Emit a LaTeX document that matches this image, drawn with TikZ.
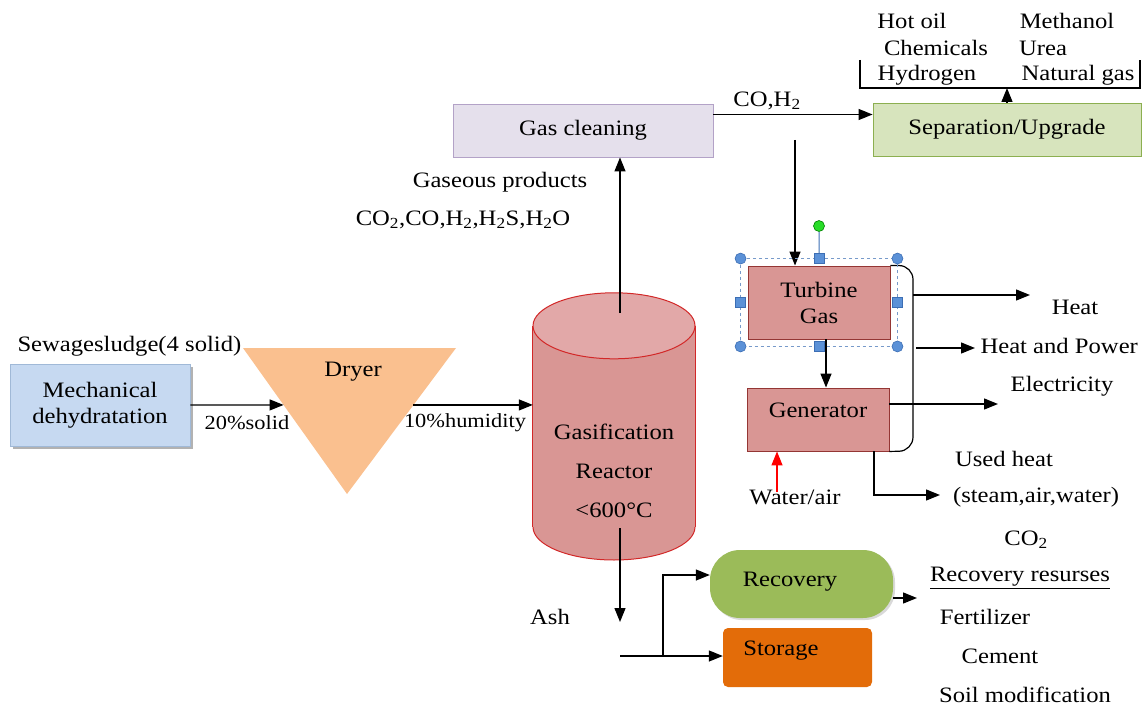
\documentclass[tikz,border=0pt]{standalone}
\usepackage{fontspec}
\setmainfont{Liberation Serif}[FakeStretch=1.12]
\usetikzlibrary{arrows.meta,calc,shadows}
\definecolor{mechblue}{RGB}{198,217,241}
\definecolor{mechedge}{RGB}{160,185,215}
\definecolor{dryorange}{RGB}{250,192,143}
\definecolor{reactfill}{RGB}{217,150,148}
\definecolor{reacttop}{RGB}{226,168,168}
\definecolor{reactred}{RGB}{210,40,40}
\definecolor{cleanfill}{RGB}{229,224,236}
\definecolor{cleanedge}{RGB}{179,162,199}
\definecolor{sepfill}{RGB}{215,228,189}
\definecolor{sepedge}{RGB}{140,175,80}
\definecolor{turbedge}{RGB}{148,54,52}
\definecolor{recovgreen}{RGB}{155,187,89}
\definecolor{storeorange}{RGB}{227,108,9}
\definecolor{handlefill}{RGB}{91,145,215}
\definecolor{handleedge}{RGB}{60,110,180}
\definecolor{rotgreen}{RGB}{40,220,40}
\newcommand{\fs}{\fontsize{22}{26}\selectfont}
\tikzset{
  proc/.style={draw, line width=0.9pt, inner sep=2pt, align=center},
  flow/.style={line width=1.3pt, -{Triangle[length=14pt,width=11pt]}},
  small/.style={font=\fontsize{20}{24}\selectfont},
  handle/.style={circle, fill=handlefill, draw=handleedge, line width=0.6pt, minimum size=11pt, inner sep=0pt},
  handlesq/.style={rectangle, fill=handlefill, draw=handleedge, line width=0.6pt, minimum size=10pt, inner sep=0pt}
}

\begin{document}
\begin{tikzpicture}[x=1pt,y=-1pt,font=\fs]
  \useasboundingbox (0,0) rectangle (1146,706);

  % déshydratation et séchage
  \node[proc, fill=mechblue, draw=mechedge, minimum width=180, minimum height=82,
        drop shadow={shadow xshift=3pt, shadow yshift=-3pt, fill=black!30, opacity=1}]
        (mech) at (100,405) {Mechanical\\dehydratation};
  \node[anchor=west] (sludge) at (14,346) {Sewagesludge(4 solid)};

  \coordinate (dryA) at (243,348);
  \coordinate (dryB) at (456,348);
  \coordinate (dryC) at (347,494);
  \fill[dryorange] (dryA) -- (dryB) -- (dryC) -- cycle;
  \node (dryer) at (353,372) {Dryer};
  \coordinate (dryin) at ($(dryA)!0.39!(dryC)$);
  \coordinate (dryout) at ($(dryB)!0.39!(dryC)$);

  % réacteur
  \filldraw[fill=reactfill, draw=reactred, line width=1pt] (614,527) ellipse [x radius=81, y radius=33];
  \node[fill=reactfill, minimum width=162, minimum height=201, inner sep=0pt] (reactor) at (614,426.5) {};
  \draw[reactred, line width=1pt] (reactor.north west) -- (reactor.south west)
                                  (reactor.north east) -- (reactor.south east);
  \filldraw[fill=reacttop, draw=reactred, line width=1pt] (reactor.north) ellipse [x radius=81, y radius=33];
  \node[align=center, font=\fontsize{22}{39}\selectfont] (reacttext) at (614,471) {Gasification\\Reactor\\<600°C};

  \draw[flow] (mech.east) -- (dryin);
  \node[small] (solid) at (247,423) {20\%solid};
  \draw[flow] (dryout) -- (dryout -| reactor.west);
  \node[small] (humid) at (465,423) {10\%humidity};

  % gaz
  \node[proc, fill=cleanfill, draw=cleanedge, minimum width=260, minimum height=53] (clean) at (583,130.5) {Gas cleaning};
  \coordinate (rtop) at (620,313);
  \draw[flow] (rtop) -- (rtop |- clean.south);
  \node (gasprod) at (500,182) {Gaseous products};
  \node (gaslist) at (463,220) {CO\textsubscript{2},CO,H\textsubscript{2},H\textsubscript{2}S,H\textsubscript{2}O};

  \node[proc, fill=sepfill, draw=sepedge, minimum width=268, minimum height=53] (sep) at (1007,129.5) {Separation/Upgrade};
  \draw[flow] ([yshift=16pt]clean.east) -- ([yshift=16pt]clean.east -| sep.west);
  \node (coh) at (767,101) {CO,H\textsubscript{2}};

  \coordinate (brl) at (860,60);
  \coordinate (brb) at (1140,88);
  \coordinate (brr) at (1140,60);
  \draw[line width=1.2pt] (brl) |- (brb) -- (brr);
  \draw[flow] (sep.north) -- (sep.north |- brb);
  \node (hotoil) at (912,21) {Hot oil};
  \node (methanol) at (1067,21) {Methanol};
  \node (chem) at (936,48) {Chemicals};
  \node (urea) at (1043,48) {Urea};
  \node (hydro) at (927,75) {Hydrogen};
  \node (natgas) at (1078,75) {Natural gas};

  % turbine et générateur
  \node[proc, fill=reactfill, draw=turbedge, minimum width=142, minimum height=73] (turb) at (819,302.5) {Turbine\\Gas};
  \node[proc, fill=reactfill, draw=turbedge, minimum width=142, minimum height=63, text depth=18pt] (gen) at (818,419.5) {Generator};
  \coordinate (tap) at (795,140);
  \draw[flow] (tap) -- (tap |- turb.north);
  \draw[flow] ([xshift=7pt]turb.south) -- ([xshift=7pt]turb.south |- gen.north);

  \coordinate (brk) at (913,451);
  \draw[line width=1.2pt, rounded corners=14pt] (turb.north east) -| (brk) -- (gen.south east);

  \coordinate (heatA) at (913,295);
  \coordinate (heatB) at (1030,295);
  \draw[flow] (heatA) -- (heatB);
  \node (heat) at (1075,307) {Heat};
  \coordinate (hpA) at (916,348);
  \coordinate (hpB) at (975,348);
  \draw[flow] (hpA) -- (hpB);
  \node[anchor=west] (hp) at (977,346) {Heat and Power};
  \coordinate (elecB) at (998,404);
  \draw[flow] ([yshift=15.5pt]gen.east) -- (elecB);
  \node (elec) at (1062,386) {Electricity};

  \coordinate (water) at (777,492);
  \draw[flow, red] (water) -- (water |- gen.south);
  \node (wair) at (795,497) {Water/air};
  \coordinate (usedB) at (940,495);
  \draw[flow] ([xshift=56pt]gen.south) |- (usedB);
  \node (used) at (1004,459) {Used heat};
  \node (steam) at (1036,497) {(steam,air,water)};
  \node (cotwo) at (1026,540) {CO\textsubscript{2}};

  % poignées de sélection
  \coordinate (hNW) at ([shift={(-7pt,7pt)}]turb.north west);
  \coordinate (hSE) at ([shift={(7pt,-7pt)}]turb.south east);
  \coordinate (hNE) at (hSE |- hNW);
  \coordinate (hSW) at (hNW |- hSE);
  \draw[handleedge!70, dashed, line width=0.8pt] (hNW) rectangle (hSE);
  \node[handle, fill=rotgreen, draw=green!50!black] (rot) at (819,226) {};
  \draw[handleedge, line width=1pt] (rot) -- ($(hNW)!0.5!(hNE)$);
  \foreach \c in {hNW,hNE,hSW,hSE}
    \node[handle] (h-\c) at (\c) {};
  \node[handlesq] (hN) at ($(hNW)!0.5!(hNE)$) {};
  \node[handlesq] (hS) at ($(hSW)!0.5!(hSE)$) {};
  \node[handlesq] (hW) at ($(hNW)!0.5!(hSW)$) {};
  \node[handlesq] (hE) at ($(hNE)!0.5!(hSE)$) {};

  % cendres
  \coordinate (rbot) at (620,528);
  \coordinate (ashend) at (620,622);
  \draw[flow] (rbot) -- (ashend);
  \node (ash) at (550,617) {Ash};
  \node[fill=recovgreen, minimum width=183, minimum height=68, rounded corners=30pt,
        drop shadow={shadow xshift=2pt, shadow yshift=-2pt, fill=black!15, opacity=1}] (recov) at (801.5,584) {};
  \node (recovtext) at (790,582) {Recovery};
  \node[fill=storeorange, minimum width=149, minimum height=59, rounded corners=5pt] (store) at (797.5,657.5) {};
  \node (storetext) at (781,651) {Storage};
  \coordinate (ashin) at (620,656);
  \coordinate (split) at (663,656);
  \draw[line width=1.3pt] (ashin) -- (split);
  \draw[flow] (split) -- (split -| store.west);
  \draw[flow] (split) |- ([yshift=9pt]recov.west);
  \coordinate (resB) at (917,598);
  \draw[flow] ([yshift=-14pt]recov.east) -- (resB);
  \node (resurs) at (1020,578) {\underline{Recovery resurses}};
  \node (fert) at (985,617) {Fertilizer};
  \node (cement) at (1000,656) {Cement};
  \node (soil) at (1025,695) {Soil modification};
\end{tikzpicture}
\end{document}
